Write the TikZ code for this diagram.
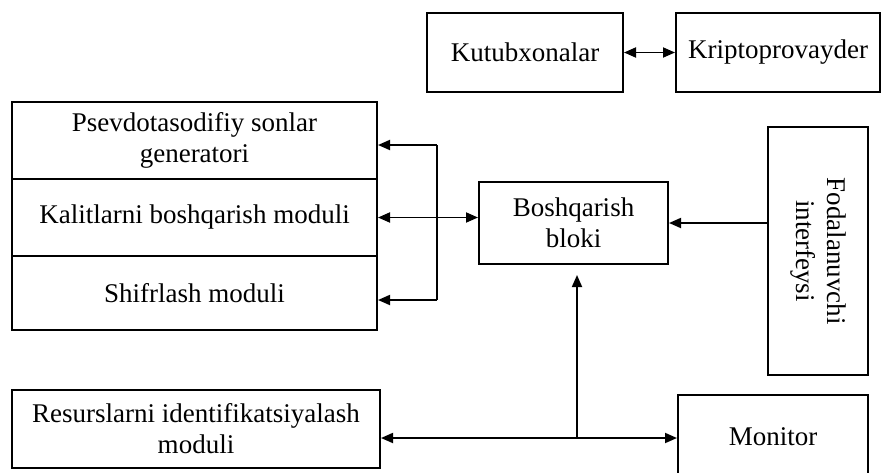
\documentclass[tikz,border=0pt]{standalone}
\usepackage{fontspec}
\setmainfont{Liberation Serif}
\usetikzlibrary{arrows.meta,calc}
\begin{document}
\begin{tikzpicture}[x=1pt,y=-1pt,
  txt/.style={font=\fontsize{27}{31}\selectfont},
  box/.style={draw, line width=2pt, inner sep=0pt, align=center, txt},
  conn/.style={line width=1.8pt},
  tip/.style={-{Triangle[length=12pt,width=10pt]}},
  tips/.style={{Triangle[length=12pt,width=10pt]}-{Triangle[length=12pt,width=10pt]}}]
\useasboundingbox (0,0) rectangle (883,472);
% top boxes
\node[box, minimum width=196pt, minimum height=79pt] (kut) at (525,52.5) {Kutubxonalar};
\node[box, minimum width=204pt, minimum height=79pt] (kri) at (778,52.5) {Kriptoprovayder};
% stacked module boxes
\node[box, minimum width=365pt, minimum height=77pt] (psev) at (194.5,140.5) {Psevdotasodifiy sonlar\\generatori};
\node[box, minimum width=365pt, minimum height=77pt] (kal) at (194.5,217.5) {Kalitlarni boshqarish moduli};
\node[box, minimum width=365pt, minimum height=74pt] (shif) at (194.5,293) {Shifrlash moduli};
% control block
\node[box, minimum width=189pt, minimum height=82pt] (bosh) at (573.5,223) {Boshqarish\\bloki};
% user interface
\node[box, minimum width=100pt, minimum height=248pt] (fod) at (818,251) {};
\node[rotate=-90, align=center, inner sep=0pt, txt] (fodt) at (fod.center) {Fodalanuvchi\\interfeysi};
% bottom boxes
\node[box, minimum width=368pt, minimum height=78pt] (res) at (196,429) {Resurslarni identifikatsiyalash\\moduli};
\node[box, minimum width=190pt, minimum height=90pt] (mon) at (773,440) {};
\node[inner sep=0pt, txt] (mont) at (773,437) {Monitor};
% connectors
\draw[conn, tips] (kut.east) -- (kri.west);
\coordinate (bt) at (437,145);
\coordinate (bb) at (437,300);
\draw[conn, tip] (bt) -- (psev.east |- bt);
\draw[conn, tip] (bb) -- (shif.east |- bb);
\draw[conn] (bt) -- (bb);
\draw[conn, tips] (kal.east) -- (kal.east -| bosh.west);
\draw[conn, tip] (fod.west |- bosh.east) -- (bosh.east);
\coordinate (j) at (577,438);
\draw[conn, tips] (res.east |- j) -- (mon.west |- j);
\draw[conn, tip, shorten >=10pt] (j) -- (j |- bosh.south);
\end{tikzpicture}
\end{document}
